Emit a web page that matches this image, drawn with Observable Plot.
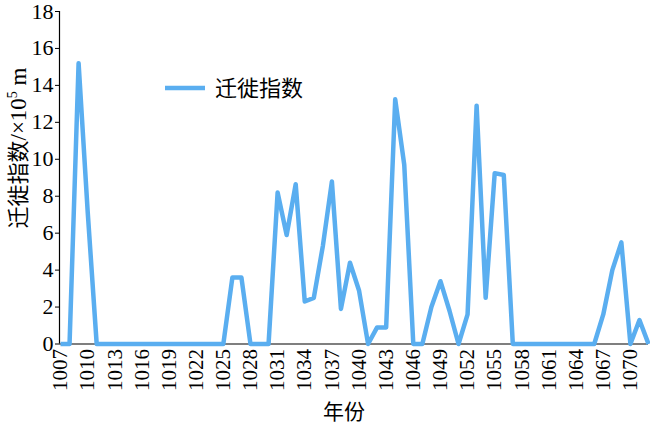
<!DOCTYPE html>
<html><head><meta charset="utf-8">
<script src="https://cdn.jsdelivr.net/npm/d3@7"></script>
<script src="https://cdn.jsdelivr.net/npm/@observablehq/plot@0.6"></script>
<style>
body{margin:0;background:#fff}
svg text.serif, .serif text { font-family: "Liberation Serif", "Times New Roman", "DejaVu Serif", serif !important; }
</style>
</head><body><div id="chart"></div>
<script>
const years = [1007,1008,1009,1010,1011,1012,1013,1014,1015,1016,1017,1018,1019,1020,1021,1022,1023,1024,1025,1026,1027,1028,1029,1030,1031,1032,1033,1034,1035,1036,1037,1038,1039,1040,1041,1042,1043,1044,1045,1046,1047,1048,1049,1050,1051,1052,1053,1054,1055,1056,1057,1058,1059,1060,1061,1062,1063,1064,1065,1066,1067,1068,1069,1070,1071,1072];
const values = [0,0,15.2,7.2,0,0,0,0,0,0,0,0,0,0,0,0,0,0,0,3.6,3.6,0,0,0,8.2,5.9,8.65,2.3,2.5,5.3,8.8,1.9,4.4,2.9,0,0.9,0.9,13.25,9.7,0,0,2.0,3.4,1.8,0,1.6,12.9,2.5,9.25,9.15,0,0,0,0,0,0,0,0,0,0,1.6,4.0,5.5,0,1.3,0];
const xTicks = [1007,1010,1013,1016,1019,1022,1025,1028,1031,1034,1037,1040,1043,1046,1049,1052,1055,1058,1061,1064,1067,1070];
const yTicks = [0,2,4,6,8,10,12,14,16,18];
const seriesName = "迁徙指数";
const xTitle = "年份";
const yTitle = ["迁徙指数", "/×10", "5", " m"];

const data = years.map((y, i) => ({year: y, value: values[i]}));
const color = "#5aaef0";
const serif = '"Liberation Serif", "Times New Roman", serif';
const cjk = '"Noto Sans CJK SC", sans-serif';

const chart = Plot.plot({
  width: 650, height: 425,
  marginLeft: 60, marginRight: 2, marginTop: 11, marginBottom: 81.5,
  style: {background: "#fff", color: "#000"},
  x: {type: "linear", domain: [1007, 1072]},
  y: {domain: [0, 18]},
  marks: [
    Plot.axisY({ticks: yTicks, tickSize: 5, tickPadding: 2, fontSize: 22, label: null, tickFormat: d => String(d)}),
    Plot.axisX({ticks: xTicks, tickSize: 0, tickPadding: 5, tickRotate: -90, fontSize: 21, label: null, tickFormat: d => String(d)}),
    Plot.ruleY([0], {stroke: "#000", strokeWidth: 1.2}),
    Plot.ruleX([1007], {stroke: "#000", strokeWidth: 1.2, dx: -1}),
    Plot.lineY(data, {x: "year", y: "value", stroke: color, strokeWidth: 4.5, strokeLinejoin: "round", strokeLinecap: "butt"})
  ]
});
document.getElementById("chart").appendChild(chart);
const svg = d3.select(chart);
svg.selectAll("text").classed("serif", true);
// y title
const yt = svg.append("text")
  .attr("transform", "translate(26,148) rotate(-90)")
  .attr("text-anchor", "middle")
  .attr("font-size", 23)
  .attr("fill", "#000");
yt.append("tspan").style("font-family", cjk).attr("font-size", 22).text(yTitle[0]);
yt.append("tspan").style("font-family", serif).text(yTitle[1]);
yt.append("tspan").style("font-family", serif).attr("font-size", 14).attr("dy", -9).text(yTitle[2]);
yt.append("tspan").style("font-family", serif).attr("dy", 9).text(yTitle[3]);
// x title
svg.append("text").attr("x", 344).attr("y", 419).attr("text-anchor", "middle")
  .style("font-family", cjk).attr("font-size", 21).attr("fill", "#000").text(xTitle);
// legend
svg.append("line").attr("x1", 165).attr("x2", 205).attr("y1", 88).attr("y2", 88)
  .attr("stroke", color).attr("stroke-width", 4.5);
svg.append("text").attr("x", 215).attr("y", 88).attr("dy", "0.35em").attr("text-anchor", "start")
  .style("font-family", cjk).attr("font-size", 22).attr("fill", "#000").text(seriesName);
</script></body></html>
